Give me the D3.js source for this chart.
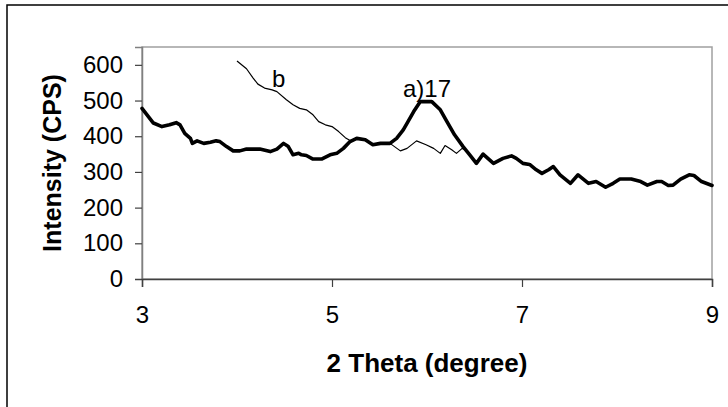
<!DOCTYPE html>
<html>
<head>
<meta charset="utf-8">
<script src="https://cdn.jsdelivr.net/npm/d3@7"></script>
<style>
  html, body { margin: 0; padding: 0; background: #fff; }
  svg { display: block; font-family: "Liberation Sans", Arial, sans-serif; }
</style>
</head>
<body>
<svg id="chart" width="728" height="407"></svg>
<script>
// ---- data ----
const aX = [3.00,3.12,3.21,3.29,3.36,3.40,3.45,3.51,3.53,3.58,3.65,3.72,3.78,3.82,3.89,3.96,4.03,4.10,4.24,4.35,4.42,4.49,4.54,4.59,4.65,4.68,4.73,4.80,4.89,4.98,5.05,5.12,5.19,5.26,5.35,5.43,5.51,5.61,5.68,5.75,5.80,5.86,5.93,6.05,6.14,6.21,6.29,6.38,6.45,6.52,6.59,6.70,6.80,6.89,6.94,7.01,7.08,7.15,7.21,7.28,7.33,7.40,7.51,7.59,7.70,7.78,7.88,7.96,8.03,8.15,8.25,8.32,8.42,8.47,8.54,8.59,8.67,8.76,8.81,8.89,9.00];
const aY = [478,437,427,432,438,432,408,394,380,387,380,383,387,385,371,359,359,364,364,357,364,380,371,348,352,348,346,336,336,348,352,366,385,394,390,376,380,380,394,418,441,469,497,497,474,441,404,371,348,324,350,324,338,345,338,324,321,306,296,306,315,292,268,292,268,273,257,268,280,280,273,263,273,273,262,263,280,292,290,273,262];
const bX = [4.00,4.10,4.17,4.22,4.29,4.37,4.42,4.52,4.59,4.66,4.73,4.80,4.86,4.93,5.00,5.07,5.14,5.19,5.26,5.35,5.43,5.51,5.61,5.72,5.79,5.89,5.99,6.07,6.14,6.19,6.26,6.31,6.37,6.40];
const bY = [611,589,563,546,535,530,525,502,488,478,474,460,441,432,427,413,396,388,392,390,376,380,380,359,366,387,376,366,352,374,362,352,366,362];
const xTicks = [3,5,7,9];
const yTicks = [0,100,200,300,400,500,600];
const xLabel = "2 Theta (degree)";
const yLabel = "Intensity (CPS)";
const labelA = "a)17";
const labelB = "b";

// ---- layout ----
const svg = d3.select("#chart");
const L = 142, R = 712, T = 47, B = 279;
const x = d3.scaleLinear().domain([3, 9]).range([L, R]);
const y = d3.scaleLinear().domain([0, 650]).range([B, T]);

// outer frame
svg.append("rect").attr("x", 7).attr("y", 5).attr("width", 760).attr("height", 440)
  .attr("fill", "#fff").attr("stroke", "#000").attr("stroke-width", 1.5);

// plot area border (top/right gray)
svg.append("rect").attr("x", L).attr("y", T).attr("width", R - L).attr("height", B - T)
  .attr("fill", "#fff").attr("stroke", "#a0a0a0").attr("stroke-width", 1.5);

// axes
const yAxis = d3.axisLeft(y).tickValues(yTicks).tickSize(7).tickPadding(12).tickFormat(d3.format("d"));
const gy = svg.append("g").attr("transform", `translate(${L},0)`).call(yAxis);
gy.select(".domain").attr("stroke", "#808080").attr("stroke-width", 1.5);
gy.selectAll(".tick line").attr("stroke", "#404040").attr("stroke-width", 1.2);
gy.selectAll("text").attr("font-size", 24).attr("fill", "#000")
  .attr("font-family", "'Liberation Sans', Arial, sans-serif");

const xAxis = d3.axisBottom(x).tickValues(xTicks).tickSize(8).tickPadding(19).tickFormat(d3.format("d"));
const gx = svg.append("g").attr("transform", `translate(0,${B})`).call(xAxis);
gx.select(".domain").attr("stroke", "#404040").attr("stroke-width", 1.5);
gx.selectAll(".tick line").attr("stroke", "#404040").attr("stroke-width", 1.2);
gx.selectAll("text").attr("font-size", 24).attr("fill", "#000")
  .attr("font-family", "'Liberation Sans', Arial, sans-serif");

// lines
const line = d3.line().x(d => x(d[0])).y(d => y(d[1])).curve(d3.curveLinear);
const bData = bX.map((v, i) => [v, bY[i]]);
const aData = aX.map((v, i) => [v, aY[i]]);

svg.append("path").attr("d", line(bData)).attr("fill", "none")
  .attr("stroke", "#000").attr("stroke-width", 1.2).attr("stroke-linejoin", "round");
svg.append("path").attr("d", line(aData)).attr("fill", "none")
  .attr("stroke", "#000").attr("stroke-width", 3.6).attr("stroke-linejoin", "round").attr("stroke-linecap", "round");

// curve labels
svg.append("text").attr("x", x(4.44)).attr("y", 87).attr("text-anchor", "middle")
  .attr("font-size", 24).text(labelB);
svg.append("text").attr("x", x(6.0)).attr("y", 97).attr("text-anchor", "middle")
  .attr("font-size", 24).text(labelA);

// axis titles
svg.append("text").attr("x", (L + R) / 2).attr("y", 372).attr("text-anchor", "middle")
  .attr("font-size", 26).attr("font-weight", "bold").text(xLabel);
svg.append("text").attr("transform", `translate(61,${(T + B) / 2}) rotate(-90)`)
  .attr("text-anchor", "middle").attr("font-size", 25).attr("font-weight", "bold").text(yLabel);
</script>
</body>
</html>
